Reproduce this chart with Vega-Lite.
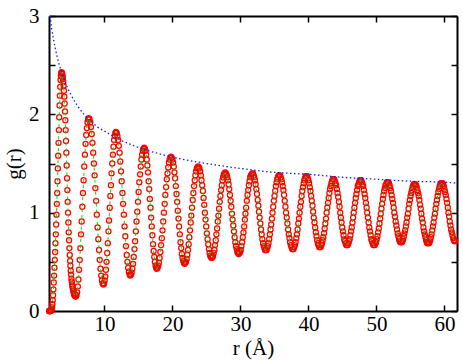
{
"$schema": "https://vega.github.io/schema/vega-lite/v6.json",
"width": 408, "height": 295,
"autosize": {"type": "none"},
"padding": {"left": 49, "top": 16, "right": 6, "bottom": 49},
"background": "white",
"config": {
 "view": {"stroke": null},
 "axis": {"domainColor": "black", "domainWidth": 2, "tickColor": "black", "tickWidth": 1.5, "tickSize": -6, "labelFont": "Liberation Serif", "labelFontSize": 21, "labelColor": "black", "titleFont": "Liberation Serif", "titleFontSize": 21, "titleFontWeight": "normal", "titleColor": "black", "grid": false, "labelFlush": false}
},
"datasets": {
"env": [
{"r":2.0,"g":3.0},{"r":2.25,"g":2.87},{"r":2.5,"g":2.77},{"r":2.75,"g":2.68},{"r":3,"g":2.6},{"r":3.5,"g":2.47},{"r":4,"g":2.37},{"r":4.5,"g":2.28},{"r":5,"g":2.21},{"r":6,"g":2.09},{"r":7,"g":2.0},{"r":8,"g":1.93},{"r":9,"g":1.87},{"r":10,"g":1.83},{"r":12,"g":1.75},{"r":14,"g":1.69},{"r":16,"g":1.64},{"r":18,"g":1.6},{"r":21,"g":1.55},{"r":25,"g":1.5},{"r":30,"g":1.45},{"r":35,"g":1.41},{"r":40,"g":1.39},{"r":45,"g":1.36},{"r":50,"g":1.34},{"r":55,"g":1.32},{"r":60,"g":1.31},{"r":61.85,"g":1.3}
],
"gr": [
{"r":1.85,"g":0},{"r":1.9,"g":0},{"r":1.95,"g":0},{"r":2.0,"g":0},{"r":2.05,"g":0},{"r":2.1,"g":0},{"r":2.15,"g":0.005},{"r":2.2,"g":0.01},{"r":2.25,"g":0.02},{"r":2.3,"g":0.04},{"r":2.35,"g":0.07},{"r":2.4,"g":0.11},{"r":2.45,"g":0.16},{"r":2.5,"g":0.22},{"r":2.55,"g":0.29},{"r":2.6,"g":0.36},{"r":2.65,"g":0.44},{"r":2.7,"g":0.52},{"r":2.75,"g":0.6},{"r":2.8,"g":0.69},{"r":2.85,"g":0.78},{"r":2.9,"g":0.88},{"r":2.95,"g":0.98},{"r":3.0,"g":1.09},{"r":3.05,"g":1.2},{"r":3.1,"g":1.32},{"r":3.15,"g":1.45},{"r":3.2,"g":1.58},{"r":3.25,"g":1.71},{"r":3.3,"g":1.84},{"r":3.35,"g":1.97},{"r":3.4,"g":2.09},{"r":3.45,"g":2.19},{"r":3.5,"g":2.28},{"r":3.55,"g":2.35},{"r":3.6,"g":2.39},{"r":3.65,"g":2.42},{"r":3.7,"g":2.43},{"r":3.75,"g":2.42},{"r":3.8,"g":2.41},{"r":3.85,"g":2.39},{"r":3.9,"g":2.36},{"r":3.95,"g":2.33},{"r":4.0,"g":2.29},{"r":4.05,"g":2.24},{"r":4.1,"g":2.18},{"r":4.15,"g":2.11},{"r":4.2,"g":2.03},{"r":4.25,"g":1.94},{"r":4.3,"g":1.84},{"r":4.35,"g":1.73},{"r":4.4,"g":1.61},{"r":4.45,"g":1.48},{"r":4.5,"g":1.35},{"r":4.55,"g":1.23},{"r":4.6,"g":1.11},{"r":4.65,"g":1.0},{"r":4.7,"g":0.9},{"r":4.75,"g":0.8},{"r":4.8,"g":0.72},{"r":4.85,"g":0.64},{"r":4.9,"g":0.57},{"r":4.95,"g":0.51},{"r":5.0,"g":0.46},{"r":5.05,"g":0.41},{"r":5.1,"g":0.37},{"r":5.15,"g":0.33},{"r":5.2,"g":0.3},{"r":5.25,"g":0.27},{"r":5.3,"g":0.25},{"r":5.35,"g":0.23},{"r":5.4,"g":0.21},{"r":5.45,"g":0.2},{"r":5.5,"g":0.18},{"r":5.55,"g":0.17},{"r":5.6,"g":0.16},{"r":5.65,"g":0.16},{"r":5.7,"g":0.15},{"r":5.75,"g":0.15},{"r":5.8,"g":0.15},
{"r":5.895,"g":0.16},{"r":5.99,"g":0.19},{"r":6.085,"g":0.25},{"r":6.18,"g":0.32},{"r":6.275,"g":0.42},{"r":6.37,"g":0.52},{"r":6.465,"g":0.64},{"r":6.56,"g":0.78},{"r":6.655,"g":0.91},{"r":6.75,"g":1.06},{"r":6.845,"g":1.2},{"r":6.94,"g":1.33},{"r":7.035,"g":1.47},{"r":7.13,"g":1.59},{"r":7.225,"g":1.7},{"r":7.32,"g":1.79},{"r":7.415,"g":1.86},{"r":7.51,"g":1.92},{"r":7.605,"g":1.95},{"r":7.7,"g":1.96},
{"r":7.81,"g":1.95},{"r":7.92,"g":1.92},{"r":8.02,"g":1.87},{"r":8.13,"g":1.8},{"r":8.24,"g":1.71},{"r":8.35,"g":1.61},{"r":8.45,"g":1.5},{"r":8.56,"g":1.38},{"r":8.67,"g":1.25},{"r":8.78,"g":1.12},{"r":8.88,"g":0.98},{"r":8.99,"g":0.85},{"r":9.1,"g":0.73},{"r":9.21,"g":0.62},{"r":9.31,"g":0.52},{"r":9.42,"g":0.43},{"r":9.53,"g":0.36},{"r":9.64,"g":0.31},{"r":9.74,"g":0.28},{"r":9.85,"g":0.27},
{"r":9.94,"g":0.28},{"r":10.04,"g":0.31},{"r":10.13,"g":0.35},{"r":10.22,"g":0.42},{"r":10.31,"g":0.5},{"r":10.41,"g":0.59},{"r":10.5,"g":0.69},{"r":10.59,"g":0.81},{"r":10.68,"g":0.92},{"r":10.78,"g":1.05},{"r":10.87,"g":1.17},{"r":10.96,"g":1.28},{"r":11.05,"g":1.4},{"r":11.15,"g":1.5},{"r":11.24,"g":1.59},{"r":11.33,"g":1.67},{"r":11.42,"g":1.74},{"r":11.52,"g":1.78},{"r":11.61,"g":1.81},{"r":11.7,"g":1.82},
{"r":11.81,"g":1.81},{"r":11.91,"g":1.78},{"r":12.02,"g":1.74},{"r":12.12,"g":1.68},{"r":12.23,"g":1.61},{"r":12.33,"g":1.52},{"r":12.44,"g":1.42},{"r":12.54,"g":1.32},{"r":12.65,"g":1.2},{"r":12.75,"g":1.09},{"r":12.86,"g":0.98},{"r":12.96,"g":0.86},{"r":13.07,"g":0.76},{"r":13.17,"g":0.66},{"r":13.28,"g":0.57},{"r":13.38,"g":0.5},{"r":13.49,"g":0.44},{"r":13.59,"g":0.4},{"r":13.7,"g":0.37},{"r":13.8,"g":0.36},
{"r":13.9,"g":0.37},{"r":14.01,"g":0.39},{"r":14.11,"g":0.43},{"r":14.21,"g":0.48},{"r":14.31,"g":0.55},{"r":14.42,"g":0.63},{"r":14.52,"g":0.71},{"r":14.62,"g":0.81},{"r":14.72,"g":0.91},{"r":14.83,"g":1.01},{"r":14.93,"g":1.11},{"r":15.03,"g":1.21},{"r":15.13,"g":1.31},{"r":15.24,"g":1.39},{"r":15.34,"g":1.47},{"r":15.44,"g":1.54},{"r":15.54,"g":1.59},{"r":15.65,"g":1.63},{"r":15.75,"g":1.65},{"r":15.85,"g":1.66},
{"r":15.94,"g":1.65},{"r":16.04,"g":1.63},{"r":16.13,"g":1.59},{"r":16.22,"g":1.54},{"r":16.31,"g":1.48},{"r":16.41,"g":1.41},{"r":16.5,"g":1.32},{"r":16.59,"g":1.24},{"r":16.68,"g":1.14},{"r":16.78,"g":1.05},{"r":16.87,"g":0.95},{"r":16.96,"g":0.86},{"r":17.05,"g":0.77},{"r":17.15,"g":0.68},{"r":17.24,"g":0.61},{"r":17.33,"g":0.55},{"r":17.42,"g":0.5},{"r":17.52,"g":0.46},{"r":17.61,"g":0.44},{"r":17.7,"g":0.43},
{"r":17.81,"g":0.44},{"r":17.91,"g":0.46},{"r":18.02,"g":0.49},{"r":18.12,"g":0.54},{"r":18.23,"g":0.6},{"r":18.33,"g":0.67},{"r":18.44,"g":0.74},{"r":18.54,"g":0.82},{"r":18.65,"g":0.91},{"r":18.75,"g":1.0},{"r":18.86,"g":1.09},{"r":18.96,"g":1.18},{"r":19.07,"g":1.26},{"r":19.17,"g":1.34},{"r":19.28,"g":1.4},{"r":19.38,"g":1.46},{"r":19.49,"g":1.51},{"r":19.59,"g":1.54},{"r":19.7,"g":1.56},{"r":19.8,"g":1.57},
{"r":19.9,"g":1.56},{"r":20.0,"g":1.54},{"r":20.1,"g":1.51},{"r":20.2,"g":1.47},{"r":20.3,"g":1.41},{"r":20.4,"g":1.35},{"r":20.5,"g":1.27},{"r":20.6,"g":1.19},{"r":20.7,"g":1.11},{"r":20.79,"g":1.02},{"r":20.89,"g":0.94},{"r":20.99,"g":0.86},{"r":21.09,"g":0.78},{"r":21.19,"g":0.7},{"r":21.29,"g":0.64},{"r":21.39,"g":0.58},{"r":21.49,"g":0.54},{"r":21.59,"g":0.51},{"r":21.69,"g":0.49},{"r":21.79,"g":0.48},
{"r":21.89,"g":0.49},{"r":21.99,"g":0.5},{"r":22.09,"g":0.53},{"r":22.19,"g":0.57},{"r":22.29,"g":0.62},{"r":22.39,"g":0.68},{"r":22.49,"g":0.75},{"r":22.59,"g":0.82},{"r":22.69,"g":0.9},{"r":22.78,"g":0.97},{"r":22.88,"g":1.05},{"r":22.98,"g":1.13},{"r":23.08,"g":1.2},{"r":23.18,"g":1.27},{"r":23.28,"g":1.33},{"r":23.38,"g":1.38},{"r":23.48,"g":1.42},{"r":23.58,"g":1.45},{"r":23.68,"g":1.46},{"r":23.78,"g":1.47},
{"r":23.88,"g":1.46},{"r":23.98,"g":1.45},{"r":24.08,"g":1.42},{"r":24.18,"g":1.38},{"r":24.28,"g":1.33},{"r":24.38,"g":1.28},{"r":24.48,"g":1.22},{"r":24.58,"g":1.15},{"r":24.68,"g":1.08},{"r":24.77,"g":1.0},{"r":24.87,"g":0.93},{"r":24.97,"g":0.86},{"r":25.07,"g":0.79},{"r":25.17,"g":0.73},{"r":25.27,"g":0.68},{"r":25.37,"g":0.63},{"r":25.47,"g":0.59},{"r":25.57,"g":0.56},{"r":25.67,"g":0.55},{"r":25.77,"g":0.54},
{"r":25.87,"g":0.55},{"r":25.97,"g":0.56},{"r":26.07,"g":0.59},{"r":26.17,"g":0.62},{"r":26.27,"g":0.67},{"r":26.37,"g":0.72},{"r":26.47,"g":0.78},{"r":26.57,"g":0.84},{"r":26.67,"g":0.91},{"r":26.76,"g":0.97},{"r":26.86,"g":1.04},{"r":26.96,"g":1.11},{"r":27.06,"g":1.17},{"r":27.16,"g":1.23},{"r":27.26,"g":1.28},{"r":27.36,"g":1.33},{"r":27.46,"g":1.36},{"r":27.56,"g":1.39},{"r":27.66,"g":1.4},{"r":27.76,"g":1.41},
{"r":27.86,"g":1.4},{"r":27.96,"g":1.39},{"r":28.06,"g":1.36},{"r":28.16,"g":1.33},{"r":28.26,"g":1.29},{"r":28.36,"g":1.24},{"r":28.46,"g":1.18},{"r":28.56,"g":1.12},{"r":28.66,"g":1.06},{"r":28.75,"g":0.99},{"r":28.85,"g":0.93},{"r":28.95,"g":0.87},{"r":29.05,"g":0.81},{"r":29.15,"g":0.75},{"r":29.25,"g":0.7},{"r":29.35,"g":0.66},{"r":29.45,"g":0.63},{"r":29.55,"g":0.6},{"r":29.65,"g":0.59},{"r":29.75,"g":0.58},
{"r":29.85,"g":0.59},{"r":29.95,"g":0.6},{"r":30.05,"g":0.62},{"r":30.15,"g":0.66},{"r":30.25,"g":0.7},{"r":30.35,"g":0.75},{"r":30.45,"g":0.8},{"r":30.55,"g":0.86},{"r":30.65,"g":0.93},{"r":30.74,"g":0.99},{"r":30.84,"g":1.05},{"r":30.94,"g":1.12},{"r":31.04,"g":1.18},{"r":31.14,"g":1.23},{"r":31.24,"g":1.28},{"r":31.34,"g":1.32},{"r":31.44,"g":1.36},{"r":31.54,"g":1.38},{"r":31.64,"g":1.39},{"r":31.74,"g":1.4},
{"r":31.84,"g":1.4},{"r":31.94,"g":1.38},{"r":32.04,"g":1.36},{"r":32.14,"g":1.33},{"r":32.24,"g":1.29},{"r":32.34,"g":1.24},{"r":32.44,"g":1.19},{"r":32.54,"g":1.13},{"r":32.64,"g":1.07},{"r":32.73,"g":1.01},{"r":32.83,"g":0.95},{"r":32.93,"g":0.89},{"r":33.03,"g":0.83},{"r":33.13,"g":0.78},{"r":33.23,"g":0.73},{"r":33.33,"g":0.69},{"r":33.43,"g":0.66},{"r":33.53,"g":0.64},{"r":33.63,"g":0.62},{"r":33.73,"g":0.62},
{"r":33.83,"g":0.62},{"r":33.93,"g":0.64},{"r":34.03,"g":0.66},{"r":34.13,"g":0.69},{"r":34.23,"g":0.73},{"r":34.33,"g":0.78},{"r":34.43,"g":0.83},{"r":34.53,"g":0.88},{"r":34.63,"g":0.94},{"r":34.72,"g":1.0},{"r":34.82,"g":1.06},{"r":34.92,"g":1.12},{"r":35.02,"g":1.17},{"r":35.12,"g":1.22},{"r":35.22,"g":1.27},{"r":35.32,"g":1.31},{"r":35.42,"g":1.34},{"r":35.52,"g":1.36},{"r":35.62,"g":1.38},{"r":35.72,"g":1.38},
{"r":35.82,"g":1.38},{"r":35.92,"g":1.36},{"r":36.02,"g":1.34},{"r":36.12,"g":1.31},{"r":36.22,"g":1.27},{"r":36.32,"g":1.23},{"r":36.42,"g":1.18},{"r":36.52,"g":1.12},{"r":36.62,"g":1.06},{"r":36.71,"g":1.0},{"r":36.81,"g":0.95},{"r":36.91,"g":0.89},{"r":37.01,"g":0.83},{"r":37.11,"g":0.78},{"r":37.21,"g":0.74},{"r":37.31,"g":0.7},{"r":37.41,"g":0.67},{"r":37.51,"g":0.65},{"r":37.61,"g":0.63},{"r":37.71,"g":0.63},
{"r":37.81,"g":0.63},{"r":37.91,"g":0.65},{"r":38.01,"g":0.67},{"r":38.11,"g":0.7},{"r":38.21,"g":0.74},{"r":38.31,"g":0.78},{"r":38.41,"g":0.83},{"r":38.51,"g":0.89},{"r":38.61,"g":0.94},{"r":38.7,"g":1.0},{"r":38.8,"g":1.06},{"r":38.9,"g":1.11},{"r":39.0,"g":1.17},{"r":39.1,"g":1.22},{"r":39.2,"g":1.26},{"r":39.3,"g":1.3},{"r":39.4,"g":1.33},{"r":39.5,"g":1.35},{"r":39.6,"g":1.37},{"r":39.7,"g":1.37},
{"r":39.8,"g":1.37},{"r":39.9,"g":1.35},{"r":40.0,"g":1.33},{"r":40.1,"g":1.3},{"r":40.2,"g":1.26},{"r":40.3,"g":1.22},{"r":40.4,"g":1.17},{"r":40.5,"g":1.12},{"r":40.6,"g":1.07},{"r":40.69,"g":1.01},{"r":40.79,"g":0.95},{"r":40.89,"g":0.9},{"r":40.99,"g":0.85},{"r":41.09,"g":0.8},{"r":41.19,"g":0.76},{"r":41.29,"g":0.72},{"r":41.39,"g":0.69},{"r":41.49,"g":0.67},{"r":41.59,"g":0.65},{"r":41.69,"g":0.65},
{"r":41.79,"g":0.65},{"r":41.89,"g":0.67},{"r":41.99,"g":0.69},{"r":42.09,"g":0.72},{"r":42.19,"g":0.75},{"r":42.29,"g":0.79},{"r":42.39,"g":0.84},{"r":42.49,"g":0.89},{"r":42.59,"g":0.94},{"r":42.68,"g":1.0},{"r":42.78,"g":1.05},{"r":42.88,"g":1.1},{"r":42.98,"g":1.15},{"r":43.08,"g":1.2},{"r":43.18,"g":1.24},{"r":43.28,"g":1.27},{"r":43.38,"g":1.3},{"r":43.48,"g":1.32},{"r":43.58,"g":1.34},{"r":43.68,"g":1.34},
{"r":43.78,"g":1.34},{"r":43.88,"g":1.32},{"r":43.98,"g":1.3},{"r":44.08,"g":1.28},{"r":44.18,"g":1.24},{"r":44.28,"g":1.2},{"r":44.38,"g":1.16},{"r":44.48,"g":1.11},{"r":44.58,"g":1.06},{"r":44.67,"g":1.0},{"r":44.77,"g":0.95},{"r":44.87,"g":0.9},{"r":44.97,"g":0.85},{"r":45.07,"g":0.81},{"r":45.17,"g":0.77},{"r":45.27,"g":0.73},{"r":45.37,"g":0.71},{"r":45.47,"g":0.69},{"r":45.57,"g":0.67},{"r":45.67,"g":0.67},
{"r":45.77,"g":0.67},{"r":45.87,"g":0.69},{"r":45.97,"g":0.71},{"r":46.07,"g":0.73},{"r":46.17,"g":0.77},{"r":46.27,"g":0.81},{"r":46.37,"g":0.85},{"r":46.47,"g":0.9},{"r":46.57,"g":0.95},{"r":46.66,"g":1.0},{"r":46.76,"g":1.05},{"r":46.86,"g":1.1},{"r":46.96,"g":1.15},{"r":47.06,"g":1.19},{"r":47.16,"g":1.23},{"r":47.26,"g":1.27},{"r":47.36,"g":1.29},{"r":47.46,"g":1.31},{"r":47.56,"g":1.33},{"r":47.66,"g":1.33},
{"r":47.76,"g":1.33},{"r":47.86,"g":1.31},{"r":47.96,"g":1.29},{"r":48.06,"g":1.27},{"r":48.16,"g":1.23},{"r":48.26,"g":1.19},{"r":48.36,"g":1.15},{"r":48.46,"g":1.1},{"r":48.56,"g":1.05},{"r":48.65,"g":1.0},{"r":48.75,"g":0.95},{"r":48.85,"g":0.9},{"r":48.95,"g":0.85},{"r":49.05,"g":0.81},{"r":49.15,"g":0.77},{"r":49.25,"g":0.73},{"r":49.35,"g":0.71},{"r":49.45,"g":0.69},{"r":49.55,"g":0.67},{"r":49.65,"g":0.67},
{"r":49.75,"g":0.67},{"r":49.85,"g":0.69},{"r":49.95,"g":0.7},{"r":50.05,"g":0.73},{"r":50.15,"g":0.76},{"r":50.25,"g":0.8},{"r":50.35,"g":0.84},{"r":50.45,"g":0.89},{"r":50.55,"g":0.94},{"r":50.64,"g":0.99},{"r":50.74,"g":1.04},{"r":50.84,"g":1.09},{"r":50.94,"g":1.14},{"r":51.04,"g":1.18},{"r":51.14,"g":1.22},{"r":51.24,"g":1.25},{"r":51.34,"g":1.28},{"r":51.44,"g":1.29},{"r":51.54,"g":1.31},{"r":51.64,"g":1.31},
{"r":51.74,"g":1.31},{"r":51.84,"g":1.3},{"r":51.94,"g":1.28},{"r":52.04,"g":1.25},{"r":52.14,"g":1.22},{"r":52.24,"g":1.18},{"r":52.34,"g":1.14},{"r":52.44,"g":1.1},{"r":52.54,"g":1.05},{"r":52.63,"g":1.0},{"r":52.73,"g":0.96},{"r":52.83,"g":0.91},{"r":52.93,"g":0.87},{"r":53.03,"g":0.83},{"r":53.13,"g":0.79},{"r":53.23,"g":0.76},{"r":53.33,"g":0.73},{"r":53.43,"g":0.71},{"r":53.53,"g":0.7},{"r":53.63,"g":0.7},
{"r":53.73,"g":0.7},{"r":53.83,"g":0.71},{"r":53.93,"g":0.73},{"r":54.03,"g":0.76},{"r":54.13,"g":0.79},{"r":54.23,"g":0.82},{"r":54.33,"g":0.86},{"r":54.43,"g":0.9},{"r":54.53,"g":0.95},{"r":54.62,"g":0.99},{"r":54.72,"g":1.04},{"r":54.82,"g":1.09},{"r":54.92,"g":1.13},{"r":55.02,"g":1.17},{"r":55.12,"g":1.2},{"r":55.22,"g":1.23},{"r":55.32,"g":1.26},{"r":55.42,"g":1.28},{"r":55.52,"g":1.29},{"r":55.62,"g":1.29},
{"r":55.72,"g":1.29},{"r":55.82,"g":1.28},{"r":55.92,"g":1.26},{"r":56.02,"g":1.23},{"r":56.12,"g":1.2},{"r":56.22,"g":1.17},{"r":56.32,"g":1.13},{"r":56.42,"g":1.08},{"r":56.52,"g":1.04},{"r":56.61,"g":0.99},{"r":56.71,"g":0.94},{"r":56.81,"g":0.9},{"r":56.91,"g":0.85},{"r":57.01,"g":0.81},{"r":57.11,"g":0.78},{"r":57.21,"g":0.75},{"r":57.31,"g":0.72},{"r":57.41,"g":0.7},{"r":57.51,"g":0.69},{"r":57.61,"g":0.69},
{"r":57.71,"g":0.69},{"r":57.81,"g":0.7},{"r":57.91,"g":0.72},{"r":58.01,"g":0.75},{"r":58.11,"g":0.78},{"r":58.21,"g":0.82},{"r":58.31,"g":0.86},{"r":58.41,"g":0.9},{"r":58.51,"g":0.95},{"r":58.6,"g":0.99},{"r":58.7,"g":1.04},{"r":58.8,"g":1.09},{"r":58.9,"g":1.13},{"r":59.0,"g":1.17},{"r":59.1,"g":1.21},{"r":59.2,"g":1.24},{"r":59.3,"g":1.27},{"r":59.4,"g":1.29},{"r":59.5,"g":1.3},{"r":59.6,"g":1.3},
{"r":59.7,"g":1.3},{"r":59.8,"g":1.29},{"r":59.9,"g":1.27},{"r":60.0,"g":1.24},{"r":60.1,"g":1.21},{"r":60.2,"g":1.18},{"r":60.3,"g":1.14},{"r":60.4,"g":1.1},{"r":60.5,"g":1.05},{"r":60.59,"g":1.0},{"r":60.69,"g":0.96},{"r":60.79,"g":0.91},{"r":60.89,"g":0.87},{"r":60.99,"g":0.83},{"r":61.09,"g":0.8},{"r":61.19,"g":0.77},{"r":61.29,"g":0.74},{"r":61.39,"g":0.72},{"r":61.49,"g":0.71},{"r":61.59,"g":0.71}
]
},
"resolve": {"axis": {"x": "independent", "y": "independent"}},
"layer": [
{
 "data": {"name": "gr"},
 "mark": {"type": "point", "shape": "circle", "filled": false, "color": "#ff0000", "size": 26, "strokeWidth": 1.25, "opacity": 1},
 "encoding": {
  "x": {"field": "r", "type": "quantitative", "scale": {"domain": [1.85, 61.85], "nice": false, "zero": false},
        "axis": {"orient": "bottom", "values": [10, 20, 30, 40, 50, 60], "title": "r (Å)", "labelPadding": 8, "titlePadding": 3, "labelAngle": 0}},
  "y": {"field": "g", "type": "quantitative", "scale": {"domain": [0, 3], "nice": false, "zero": false},
        "axis": {"orient": "left", "values": [0, 0.5, 1, 1.5, 2, 2.5, 3], "labelExpr": "datum.value % 1 === 0 ? format(datum.value, 'd') : ''", "title": "g(r)", "labelPadding": 16, "titlePadding": 4}}
 }
},
{
 "data": {"name": "gr"},
 "mark": {"type": "line", "color": "#00dd00", "strokeWidth": 1, "strokeDash": [3, 3]},
 "encoding": {
  "x": {"field": "r", "type": "quantitative", "axis": {"orient": "top", "values": [10, 20, 30, 40, 50, 60], "labels": false, "title": null}},
  "y": {"field": "g", "type": "quantitative", "axis": {"orient": "right", "values": [0, 0.5, 1, 1.5, 2, 2.5, 3], "labels": false, "title": null}}
 }
},
{
 "data": {"name": "env"},
 "mark": {"type": "line", "color": "#1a1aff", "strokeWidth": 1.3, "strokeDash": [1.5, 2.5], "interpolate": "monotone"},
 "encoding": {
  "x": {"field": "r", "type": "quantitative", "axis": null},
  "y": {"field": "g", "type": "quantitative", "axis": null}
 }
}
]
}
